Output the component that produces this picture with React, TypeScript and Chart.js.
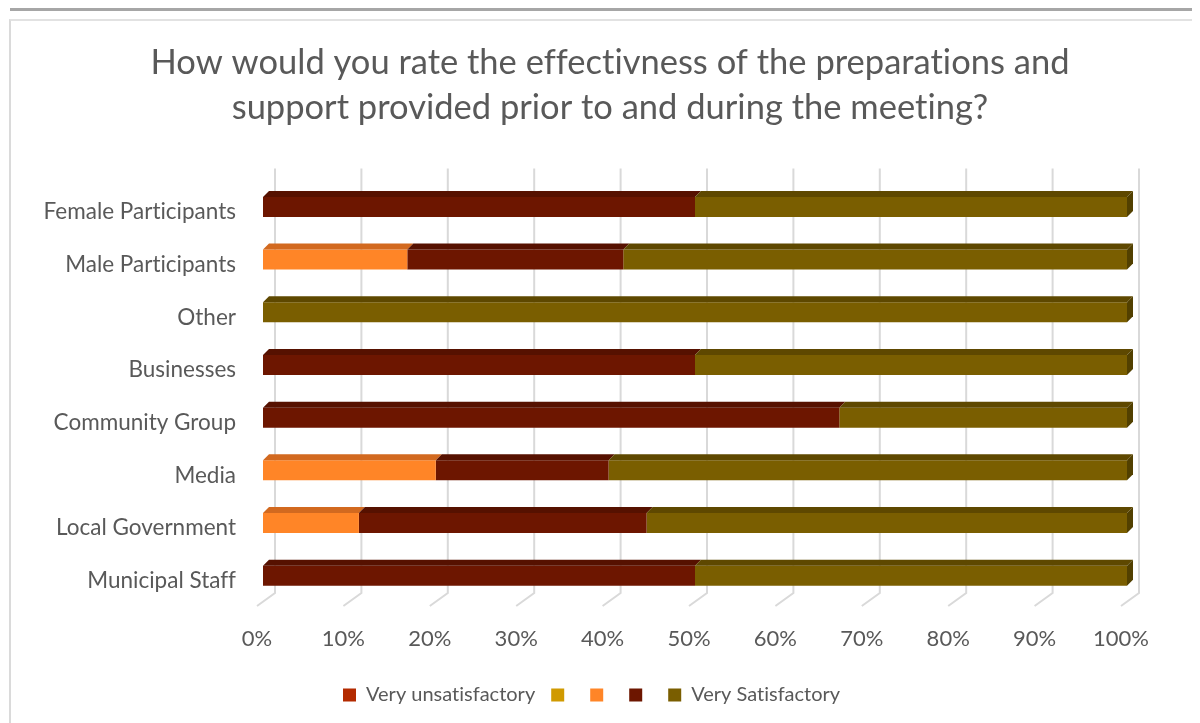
import React, { useEffect, useRef } from "react";
import { Chart, registerables } from "chart.js";
Chart.register(...registerables);

const categories = [
  "Female Participants",
  "Male Participants",
  "Other",
  "Businesses",
  "Community Group",
  "Media",
  "Local Government",
  "Municipal Staff",
];
const seriesLabels = ["Very unsatisfactory", "", "", "", "Very Satisfactory"];
const veryUnsatisfactory = [0, 0, 0, 0, 0, 0, 0, 0];
const unsatisfactory = [0, 0, 0, 0, 0, 0, 0, 0];
const neutral = [0, 16.7, 0, 0, 0, 20, 11.1, 0];
const satisfactory = [50, 25, 0, 50, 66.7, 20, 33.3, 50];
const verySatisfactory = [50, 58.3, 100, 50, 33.3, 60, 55.6, 50];
const xTicks = [0, 10, 20, 30, 40, 50, 60, 70, 80, 90, 100];
const titleLines = [
  "How would you rate the effectivness of the preparations and",
  "support provided prior to and during the meeting?",
];

const frontColors = ["#B32A00", "#D09A00", "#FF8527", "#6D1600", "#7A5E00"];
const topColors = ["#8F2200", "#A67B00", "#D2691F", "#561100", "#5E4800"];
const sideColors = ["#7A1D00", "#8C6800", "#B85C1A", "#4A0F00", "#524000"];

const TEXT = "#595959";
const FONT = "Lato";

const textPlugin = {
  id: "noLigatures",
  beforeDraw(chart: any) {
    try {
      chart.ctx.textRendering = "optimizeSpeed";
    } catch (e) {}
  },
};

const floorPlugin = {
  id: "floorGrid",
  beforeDatasetsDraw(chart: any) {
    const { ctx, chartArea } = chart;
    const x = chart.scales.x;
    ctx.save();
    ctx.strokeStyle = "#D9D9D9";
    ctx.lineWidth = 2;
    xTicks.forEach((v) => {
      const px = x.getPixelForValue(v);
      ctx.beginPath();
      ctx.moveTo(px + 12, chartArea.top - 12);
      ctx.lineTo(px + 12, chartArea.bottom - 9);
      ctx.lineTo(px - 6, chartArea.bottom + 4);
      ctx.stroke();
    });
    ctx.restore();
  },
};

const bar3dPlugin = {
  id: "bar3d",
  afterDatasetsDraw(chart: any) {
    const ctx = chart.ctx;
    const d = 6;
    const datasets = chart.data.datasets;
    ctx.save();
    datasets.forEach((ds: any, di: number) => {
      const meta = chart.getDatasetMeta(di);
      meta.data.forEach((el: any, i: number) => {
        const v = ds.data[i];
        if (!v) return;
        const { x, y, base, height } = el.getProps(["x", "y", "base", "height"], true);
        const l = Math.min(x, base);
        const r = Math.max(x, base);
        const t = y - height / 2;
        const b = y + height / 2;
        ctx.fillStyle = topColors[di];
        ctx.beginPath();
        ctx.moveTo(l, t);
        ctx.lineTo(l + d, t - d);
        ctx.lineTo(r + d, t - d);
        ctx.lineTo(r, t);
        ctx.closePath();
        ctx.fill();
        let last = true;
        for (let k = di + 1; k < datasets.length; k++) {
          if (datasets[k].data[i] > 0) last = false;
        }
        if (last) {
          ctx.fillStyle = sideColors[di];
          ctx.beginPath();
          ctx.moveTo(r, t);
          ctx.lineTo(r + d, t - d);
          ctx.lineTo(r + d, b - d);
          ctx.lineTo(r, b);
          ctx.closePath();
          ctx.fill();
        }
      });
    });
    ctx.restore();
  },
};

const shiftPlugin = {
  id: "shiftBlocks",
  afterLayout(chart: any) {
    const t = chart.titleBlock;
    if (t) {
      const c = (t.left + t.right) / 2;
      const s = 602 - c;
      t.left += s;
      t.right += s;
    }
    const lg = chart.legend;
    if (lg && lg.lineWidths) {
      const pad = lg.options.labels.padding;
      const start = (lg.left + pad + lg.right - lg.lineWidths[0]) / 2;
      const s = 335 - start;
      lg.left += s;
      lg.right += s;
    }
  },
};

export default function App() {
  const ref = useRef<HTMLCanvasElement | null>(null);
  useEffect(() => {
    if (!ref.current) return;
    const series = [veryUnsatisfactory, unsatisfactory, neutral, satisfactory, verySatisfactory];
    const chart = new Chart(ref.current, {
      type: "bar",
      data: {
        labels: categories,
        datasets: series.map((data, i) => ({
          label: seriesLabels[i],
          data,
          backgroundColor: frontColors[i],
          borderColor: frontColors[i],
          borderWidth: 0,
          barPercentage: 0.38,
          categoryPercentage: 1,
        })),
      },
      options: {
        indexAxis: "y",
        responsive: false,
        animation: false,
        devicePixelRatio: 1,
        layout: { padding: { left: 0, right: 73, top: 0, bottom: 8 } },
        scales: {
          x: {
            stacked: true,
            min: 0,
            max: 100,
            grid: { display: false, drawTicks: false },
            border: { display: false },
            ticks: {
              stepSize: 10,
              padding: 24,
              labelOffset: -6,
              color: TEXT,
              font: { family: FONT, size: 22 },
              callback: (v: any) => v + "%",
            },
            afterFit: (s: any) => {
              s.height = 67;
            },
          },
          y: {
            stacked: true,
            grid: { display: false, drawTicks: false },
            border: { display: false },
            ticks: {
              padding: 27,
              labelOffset: 5,
              color: TEXT,
              font: { family: FONT, size: 22.5 },
            },
            afterFit: (s: any) => {
              s.width = 255;
            },
          },
        },
        plugins: {
          title: {
            display: true,
            text: titleLines,
            color: TEXT,
            font: { family: FONT, size: 34.5, weight: "normal", lineHeight: 1.3 },
            padding: { top: 32.5, bottom: 50.4 },
          },
          legend: {
            position: "bottom",
            labels: {
              boxWidth: 13,
              boxHeight: 13,
              padding: 16,
              color: TEXT,
              font: { family: FONT, size: 20 },
            },
          },
          tooltip: { enabled: false },
        },
      },
      plugins: [textPlugin, floorPlugin, bar3dPlugin, shiftPlugin],
    } as any);
    return () => chart.destroy();
  }, []);

  return (
    <div style={{ position: "relative", width: 1192, height: 715, overflow: "hidden" }}>
      <div
        style={{
          position: "absolute",
          left: 2,
          top: 0,
          width: 1200,
          height: 3,
          background: "#A6A6A6",
        }}
      />
      <div
        style={{
          position: "absolute",
          left: 1,
          top: 11,
          width: 1400,
          height: 900,
          borderLeft: "2px solid #DADADA",
          borderTop: "2px solid #E2E2E2",
          background: "#FFFFFF",
        }}
      />
      <canvas
        ref={ref}
        width={1192}
        height={715}
        style={{ position: "absolute", left: 0, top: 0, width: 1192, height: 715 }}
      />
    </div>
  );
}
